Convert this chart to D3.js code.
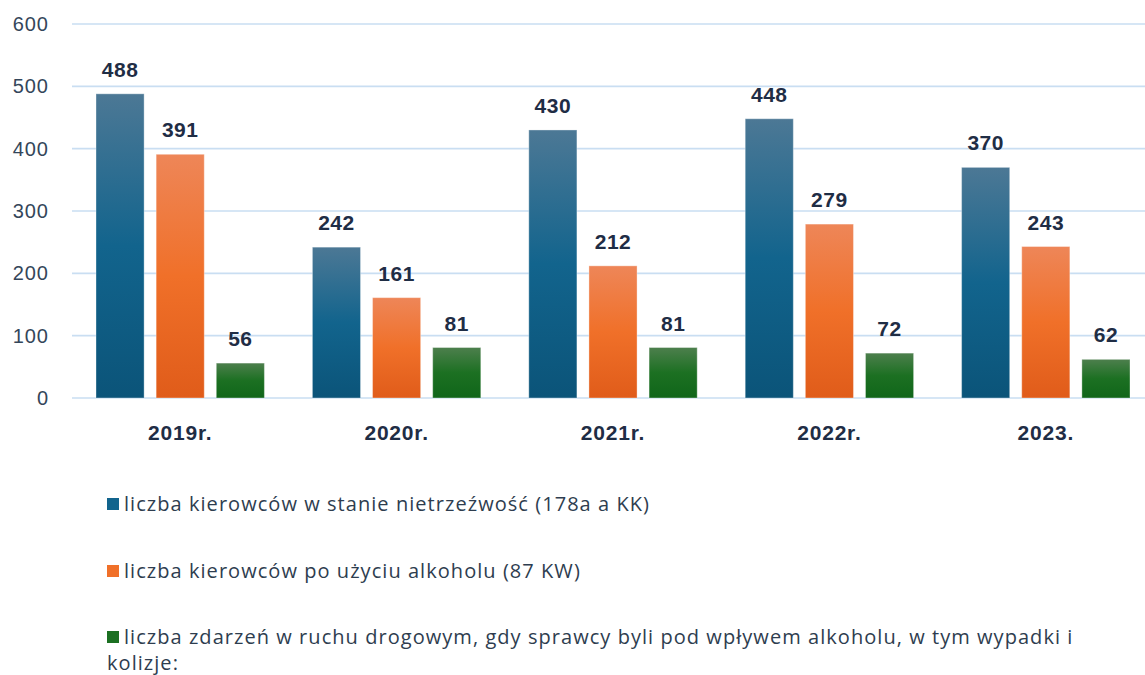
<!DOCTYPE html>
<meta charset="utf-8" />
<style>
  body { margin: 0; background: #fff; }
  svg { display: block; font-family: "Liberation Sans", Arial, sans-serif; }
  .grid line { stroke: #c9def2; stroke-width: 1.6; }
  .ytick { fill: #34465a; font-size: 20px; letter-spacing: 1px; }
  .xlab { fill: #1f2d45; font-size: 21px; font-weight: bold; letter-spacing: 0.8px; }
  .val { fill: #1f2d45; font-size: 21px; font-weight: bold; letter-spacing: 0.5px; }
  .leg { fill: #2e3d4f; font-size: 20px; letter-spacing: 1.05px; font-family: "Open Sans", "Noto Sans", sans-serif; }
</style>
<body>
  <div id="chart"></div>
  <script src="https://cdn.jsdelivr.net/npm/d3@7"></script>
  <script>
    const width = 1145;
    const height = 675;

    const years = ["2019r.", "2020r.", "2021r.", "2022r.", "2023."];
    const nietrzezwi = [488, 242, 430, 448, 370];
    const poUzyciu = [391, 161, 212, 279, 243];
    const zdarzenia = [56, 81, 81, 72, 62];
    const yTicks = [0, 100, 200, 300, 400, 500, 600];

    const seriesNames = [
      "liczba kierowców w stanie nietrzeźwość (178a a KK)",
      "liczba kierowców po użyciu alkoholu (87 KW)",
      "liczba zdarzeń w ruchu drogowym, gdy sprawcy byli pod wpływem alkoholu, w tym wypadki i",
    ];
    const seriesKeys = ["a", "b", "c"];
    const grads = [
      ["#4c7895", "#12648d", "#0b5479"],
      ["#ee8658", "#f07029", "#e05c1a"],
      ["#4d7f4d", "#1c7022", "#10661a"],
    ];

    const rows = years.map((y, i) => ({
      year: y,
      a: nietrzezwi[i],
      b: poUzyciu[i],
      c: zdarzenia[i],
    }));

    const svg = d3
      .select("#chart")
      .append("svg")
      .attr("width", width)
      .attr("height", height);

    const defs = svg.append("defs");
    grads.forEach((g, i) => {
      const lg = defs
        .append("linearGradient")
        .attr("id", "g" + i)
        .attr("x1", 0).attr("y1", 0).attr("x2", 0).attr("y2", 1);
      lg.append("stop").attr("offset", "0%").attr("stop-color", g[0]);
      lg.append("stop").attr("offset", "50%").attr("stop-color", g[1]);
      lg.append("stop").attr("offset", "100%").attr("stop-color", g[2]);
    });

    const y = d3.scaleLinear().domain([0, 600]).range([398, 24]);
    const x0 = d3.scaleBand().domain(years).range([72, 1154]);
    const x1 = d3
      .scaleBand()
      .domain(seriesKeys)
      .range([24, x0.bandwidth() - 24])
      .paddingInner(0.2);

    // grid
    svg
      .append("g")
      .attr("class", "grid")
      .selectAll("line")
      .data(yTicks)
      .enter()
      .append("line")
      .attr("x1", 72)
      .attr("x2", width)
      .attr("y1", (d) => y(d))
      .attr("y2", (d) => y(d));

    svg
      .append("g")
      .selectAll("text")
      .data(yTicks)
      .enter()
      .append("text")
      .attr("class", "ytick")
      .attr("x", 49)
      .attr("y", (d) => y(d) + 7)
      .attr("text-anchor", "end")
      .text((d) => d);

    const groups = svg
      .append("g")
      .selectAll("g")
      .data(rows)
      .enter()
      .append("g")
      .attr("transform", (d) => `translate(${x0(d.year)},0)`);

    groups
      .selectAll("rect")
      .data((d) => seriesKeys.map((k, i) => ({ k, i, v: d[k] })))
      .enter()
      .append("rect")
      .attr("x", (d) => x1(d.k))
      .attr("width", x1.bandwidth())
      .attr("y", (d) => y(d.v))
      .attr("height", (d) => y(0) - y(d.v))
      .attr("fill", (d) => `url(#g${d.i})`)
      .attr("stroke", "rgba(255,255,255,0.35)")
      .attr("stroke-width", 1);

    groups
      .selectAll("text.val")
      .data((d) => seriesKeys.map((k) => ({ k, v: d[k] })))
      .enter()
      .append("text")
      .attr("class", "val")
      .attr("x", (d) => x1(d.k) + x1.bandwidth() / 2)
      .attr("y", (d) => y(d.v) - 17)
      .attr("text-anchor", "middle")
      .text((d) => d.v);

    svg
      .append("g")
      .selectAll("text")
      .data(years)
      .enter()
      .append("text")
      .attr("class", "xlab")
      .attr("x", (d) => x0(d) + x0.bandwidth() / 2)
      .attr("y", 440)
      .attr("text-anchor", "middle")
      .text((d) => d);

    // legend
    const legY = [504, 571, 637];
    const leg = svg
      .append("g")
      .selectAll("g")
      .data(seriesNames)
      .enter()
      .append("g")
      .attr("transform", (d, i) => `translate(107,${legY[i]})`);

    leg
      .append("rect")
      .attr("x", 0)
      .attr("y", -6)
      .attr("width", 12)
      .attr("height", 12)
      .attr("fill", (d, i) => grads[i][1]);

    leg
      .append("text")
      .attr("class", "leg")
      .attr("x", 17)
      .attr("y", 7)
      .text((d) => d);

    svg
      .append("text")
      .attr("class", "leg")
      .attr("x", 107)
      .attr("y", 670)
      .text("kolizje:");
  </script>
</body>
